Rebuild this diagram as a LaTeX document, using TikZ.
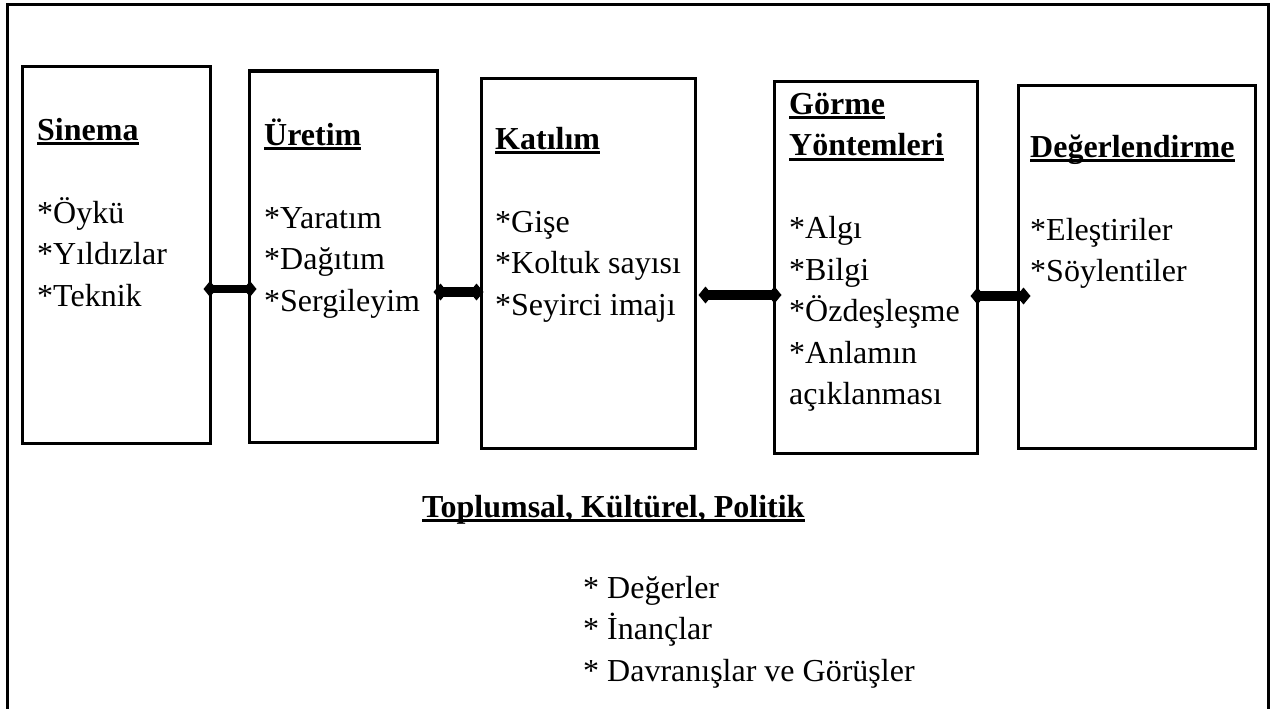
\documentclass[tikz,border=0pt]{standalone}
\usepackage{fontspec}
\setmainfont{Liberation Serif}
\usetikzlibrary{arrows.meta}
\newcommand\myul[1]{\setbox0\hbox{#1}\rlap{\rule[-5pt]{\wd0}{3pt}}\box0}
\newcommand\mycol[1]{\begin{tabular}[t]{@{}l@{}}#1\end{tabular}}
\begin{document}
\begin{tikzpicture}[x=1pt,y=-1pt,
 frame/.style={line width=3pt, line join=miter},
 boxn/.style={draw, line width=3pt, rectangle, inner sep=0pt},
 txt/.style={anchor=base west, inner sep=0pt, font=\fontsize{32}{41.5}\selectfont},
 conn/.style={line width=10pt, {Diamond[length=14pt,width=17pt]}-{Diamond[length=14pt,width=17pt]}},
 connthin/.style={line width=8pt, {Diamond[length=13pt,width=16pt]}-{Diamond[length=13pt,width=16pt]}},
]
\useasboundingbox (0,0) rectangle (1271,709);
\draw[frame] (7,715) -- (7,5) -- (1268,5) -- (1268,715);

\node[boxn, minimum width=188pt, minimum height=376pt] (b1) at (116,255) {};
\node[boxn, minimum width=188pt, minimum height=371pt] (b2) at (343,256.5) {};
\node[boxn, minimum width=214pt, minimum height=370pt] (b3) at (588,263) {};
\node[boxn, minimum width=203pt, minimum height=372pt] (b4) at (875.5,267) {};
\node[boxn, minimum width=237pt, minimum height=363pt] (b5) at (1136.5,266.5) {};

\node[txt] (t1) at (37,140) {\mycol{\myul{\textbf{Sinema}}\\{} \\{}*Öykü\\{}*Yıldızlar\\{}*Teknik}};
\node[txt] (t2) at (264,145) {\mycol{\myul{\textbf{Üretim}}\\{} \\{}*Yaratım\\{}*Dağıtım\\{}*Sergileyim}};
\node[txt] (t3) at (495,149) {\mycol{\myul{\textbf{Katılım}}\\{} \\{}*Gişe\\{}*Koltuk sayısı\\{}*Seyirci imajı}};
\node[txt] (t4) at (789,114) {\mycol{\myul{\textbf{Görme}}\\{}\myul{\textbf{Yöntemleri}}\\{} \\{}*Algı\\{}*Bilgi\\{}*Özdeşleşme\\{}*Anlamın\\{}açıklanması}};
\node[txt] (t5) at (1030,157) {\mycol{\myul{\textbf{Değerlendirme}}\\{} \\{}*Eleştiriler\\{}*Söylentiler}};

\node[txt] (title) at (422,517) {\myul{\textbf{Toplumsal, Kültürel, Politik}}};
\node[txt] (vals) at (583,598) {\mycol{{*} Değerler\\{}* İnançlar\\{}* Davranışlar ve Görüşler}};

\coordinate (y1) at (0,289);
\coordinate (y2) at (0,292);
\coordinate (y3) at (0,295);
\coordinate (y4) at (0,296);
\draw[connthin] ([xshift=-8pt]b1.east |- y1) -- ([xshift=9pt]b2.west |- y1);
\draw[conn] ([xshift=-5pt]b2.east |- y2) -- ([xshift=4pt]b3.west |- y2);
\draw[conn] ([xshift=2pt]b3.east |- y3) -- ([xshift=9pt]b4.west |- y3);
\draw[conn] ([xshift=-8pt]b4.east |- y4) -- ([xshift=14pt]b5.west |- y4);
\end{tikzpicture}
\end{document}
